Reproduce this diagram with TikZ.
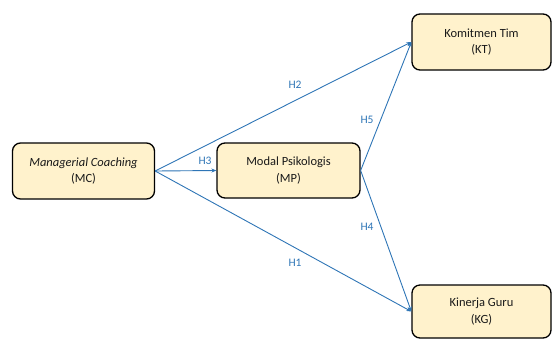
\documentclass[tikz,border=0pt]{standalone}
\usepackage{fontspec}
\setmainfont{Carlito}
\usetikzlibrary{arrows.meta}
\definecolor{boxfill}{HTML}{FFF2CC}
\definecolor{linkblue}{HTML}{2E75B6}
\begin{document}
\begin{tikzpicture}[x=1pt,y=-1pt,
  var/.style={draw=black,line width=1.3pt,fill=boxfill,rounded corners=8pt,align=center,font=\fontsize{12.5}{16.5}\selectfont,text=black!90},
  link/.style={draw=linkblue,line width=0.9pt,-{Stealth[length=5pt,width=4pt]}},
  hlab/.style={text=linkblue,font=\fontsize{11.5}{13}\selectfont,inner sep=1pt}]
\useasboundingbox (0,0) rectangle (553,338);
\node[var,minimum width=142pt,minimum height=56pt] (mc) at (83.5,171) {\textit{Managerial Coaching}\\(MC)};
\node[var,minimum width=143pt,minimum height=55pt] (mp) at (288.5,170.5) {Modal Psikologis\\(MP)};
\node[var,minimum width=139pt,minimum height=56pt] (kt) at (481.5,42) {Komitmen Tim\\(KT)};
\node[var,minimum width=139pt,minimum height=53pt] (kg) at (481.5,311.5) {Kinerja Guru\\(KG)};
\draw[link] (mc.east) -- (kt.west);
\draw[link] (mc.east) -- (kg.west);
\draw[link] (mc.east) -- (mp.west);
\draw[link] (mp.east) -- (kt.west);
\draw[link] (mp.east) -- (kg.west);
\node[hlab] (h2) at (295,85) {H2};
\node[hlab] (h5) at (367,120) {H5};
\node[hlab] (h3) at (205,161) {H3};
\node[hlab] (h4) at (367,227) {H4};
\node[hlab] (h1) at (295,263) {H1};
\end{tikzpicture}
\end{document}
